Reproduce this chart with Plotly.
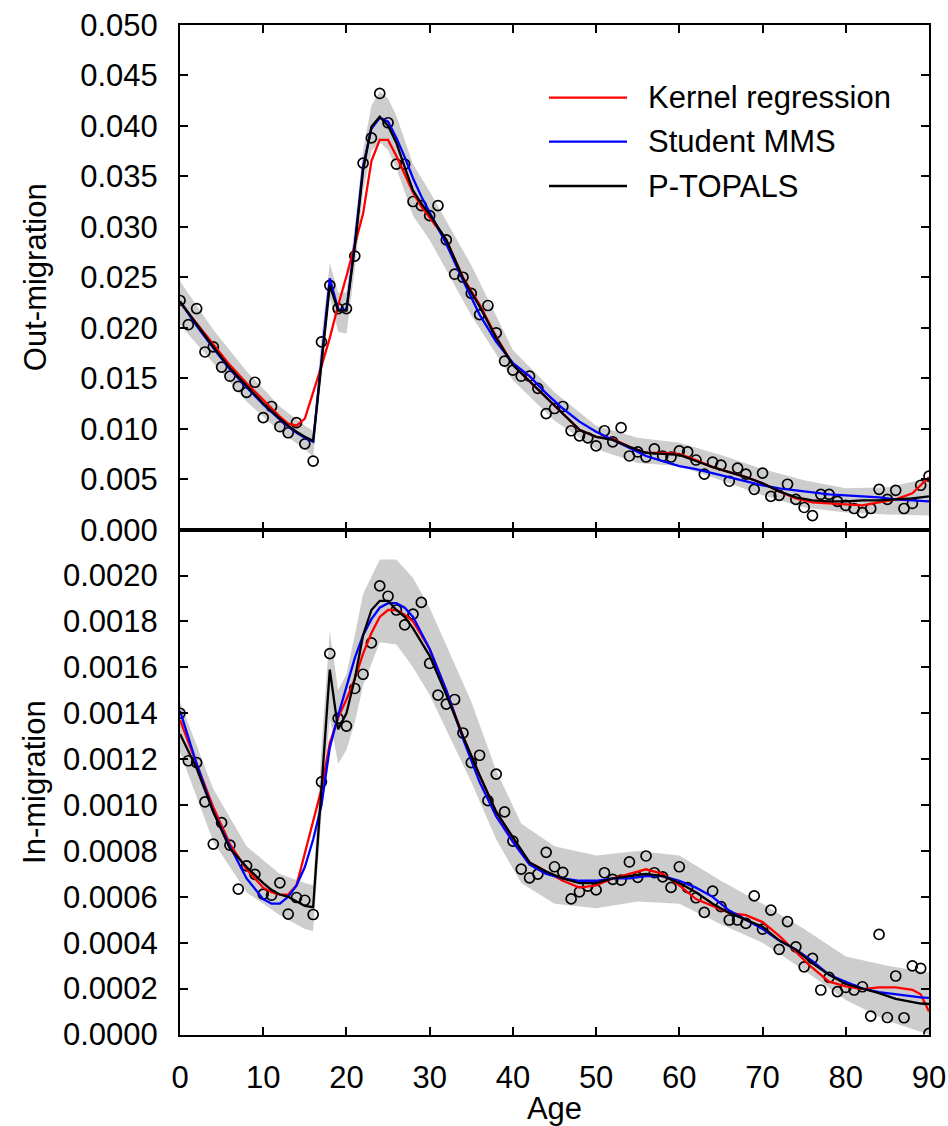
import plotly.graph_objects as go

# ---------------- data ----------------
ages = list(range(0, 91))

out_obs = [0.0227, 0.0203, 0.0219, 0.0176, 0.0181, 0.0161, 0.0152, 0.0142, 0.0136, 0.0146,
           0.0111, 0.0122, 0.0102, 0.0096, 0.0106, 0.0085, 0.0068, 0.0186, 0.0242, 0.0219,
           0.0219, 0.0271, 0.0363, 0.0388, 0.0432, 0.0403, 0.0362, 0.0362, 0.0325, 0.0321,
           0.0311, 0.0321, 0.0287, 0.0253, 0.0250, 0.0234, 0.0213, 0.0222, 0.0195, 0.0167,
           0.0158, 0.0152, 0.0152, 0.0140, 0.0115, 0.0120, 0.0122, 0.0098, 0.0093, 0.0091,
           0.0083, 0.0098, 0.0087, 0.0101, 0.0073, 0.0077, 0.0072, 0.0080, 0.0073, 0.0072,
           0.0078, 0.0077, 0.0069, 0.0055, 0.0067, 0.0064, 0.0048, 0.0061, 0.0055, 0.0040,
           0.0056, 0.0033, 0.0034, 0.0045, 0.0030, 0.0022, 0.0014, 0.0035, 0.0035, 0.0028,
           0.0024, 0.0021, 0.0017, 0.0021, 0.0040, 0.0030, 0.0039, 0.0021, 0.0026, 0.0044,
           0.0053]

in_obs = [0.001400, 0.001193, 0.001185, 0.001014, 0.000830, 0.000923, 0.000825, 0.000634, 0.000735, 0.000698,
          0.000612, 0.000607, 0.000661, 0.000525, 0.000597, 0.000585, 0.000523, 0.001101, 0.001660, 0.001378,
          0.001344, 0.001508, 0.001570, 0.001707, 0.001955, 0.001910, 0.001850, 0.001785, 0.001832, 0.001883,
          0.001617, 0.001479, 0.001440, 0.001460, 0.001314, 0.001185, 0.001217, 0.001019, 0.001135, 0.000970,
          0.000843, 0.000721, 0.000683, 0.000699, 0.000794, 0.000731, 0.000707, 0.000591, 0.000622, 0.000647,
          0.000630, 0.000705, 0.000676, 0.000673, 0.000752, 0.000685, 0.000778, 0.000705, 0.000687, 0.000641,
          0.000731, 0.000640, 0.000596, 0.000532, 0.000625, 0.000557, 0.000499, 0.000499, 0.000484, 0.000604,
          0.000459, 0.000542, 0.000371, 0.000492, 0.000382, 0.000295, 0.000332, 0.000194, 0.000249, 0.000187,
          0.000205, 0.000194, 0.000208, 0.000080, 0.000436, 0.000074, 0.000255, 0.000073, 0.000299, 0.000288,
          0.000005]

# fitted curves, out-migration
out_age = [0, 2, 4, 6, 8, 10, 12, 13, 14, 15, 16, 17, 18, 19, 20, 21, 22, 23, 24, 25, 26, 27, 28, 29, 30,
           32, 34, 36, 38, 40, 42, 44, 46, 48, 50, 52, 54, 56, 58, 60, 62, 64, 66, 68, 70, 72, 74, 76, 78,
           80, 82, 84, 86, 88, 90]
out_kernel = [0.0225, 0.0204, 0.0183, 0.0163, 0.0145, 0.0128, 0.0112, 0.0105, 0.0103, 0.0110, 0.0135,
              0.0162, 0.0190, 0.0222, 0.0251, 0.0281, 0.0313, 0.0365, 0.0386, 0.0386, 0.0370, 0.0352,
              0.0334, 0.0320, 0.0309, 0.0287, 0.0250, 0.0223, 0.0191, 0.0164, 0.0147, 0.0131, 0.0114,
              0.0099, 0.0092, 0.0090, 0.0082, 0.0076, 0.0076, 0.0075, 0.0069, 0.0062, 0.0057, 0.0052,
              0.0046, 0.0038, 0.0031, 0.0027, 0.0026, 0.0025, 0.0024, 0.0027, 0.0030, 0.0036, 0.0052]
out_mms = [0.0226, 0.0202, 0.0180, 0.0159, 0.0141, 0.0124, 0.0109, 0.0102, 0.0096, 0.0091, 0.0087,
           0.0170, 0.0249, 0.0218, 0.0218, 0.0283, 0.0360, 0.0397, 0.0408, 0.0404, 0.0388, 0.0369,
           0.0348, 0.0330, 0.0314, 0.0283, 0.0247, 0.0213, 0.0186, 0.0165, 0.0152, 0.0135, 0.0120,
           0.0107, 0.0097, 0.0089, 0.0081, 0.0073, 0.0068, 0.0063, 0.0060, 0.0056, 0.0052, 0.0048,
           0.0044, 0.0041, 0.0039, 0.0037, 0.0035, 0.0034, 0.0033, 0.0032, 0.0030, 0.0029, 0.0028]
out_ptopals = [0.0226, 0.0203, 0.0181, 0.0160, 0.0142, 0.0125, 0.0110, 0.0103, 0.0097, 0.0092, 0.0088,
               0.0168, 0.0242, 0.0217, 0.0217, 0.0280, 0.0356, 0.0399, 0.0409, 0.0400, 0.0383, 0.0359,
               0.0336, 0.0323, 0.0312, 0.0287, 0.0249, 0.0221, 0.0190, 0.0163, 0.0147, 0.0131, 0.0114,
               0.0099, 0.0092, 0.0089, 0.0082, 0.0076, 0.0075, 0.0074, 0.0068, 0.0062, 0.0057, 0.0052,
               0.0046, 0.0038, 0.0032, 0.0029, 0.0028, 0.0028, 0.0029, 0.0029, 0.0030, 0.0031, 0.0033]

out_band_age = [0, 4, 8, 12, 15, 16, 17, 18, 19, 20, 21, 22, 23, 24, 25, 26, 28, 30, 35, 40, 45, 50,
                55, 60, 65, 70, 75, 80, 85, 90]
out_band_hi = [0.0246, 0.0198, 0.0157, 0.0122, 0.0103, 0.0098, 0.0190, 0.0264, 0.0235, 0.0235, 0.0300,
               0.0376, 0.0420, 0.0434, 0.0427, 0.0410, 0.0362, 0.0335, 0.0262, 0.0178, 0.0136, 0.0103,
               0.0091, 0.0086, 0.0074, 0.0060, 0.0049, 0.0041, 0.0042, 0.0051]
out_band_lo = [0.0203, 0.0165, 0.0127, 0.0097, 0.0080, 0.0072, 0.0148, 0.0230, 0.0196, 0.0194, 0.0258,
               0.0335, 0.0375, 0.0384, 0.0376, 0.0358, 0.0311, 0.0287, 0.0212, 0.0148, 0.0108, 0.0080,
               0.0066, 0.0063, 0.0049, 0.0034, 0.0022, 0.0017, 0.0015, 0.0014]

# fitted curves, in-migration
in_age = [0, 2, 4, 6, 8, 10, 11, 12, 13, 14, 15, 16, 17, 18, 19, 20, 21, 22, 23, 24, 25, 26, 27, 28,
          30, 32, 34, 36, 38, 40, 42, 44, 46, 48, 50, 52, 54, 56, 58, 60, 62, 64, 66, 68, 70, 72, 74,
          76, 78, 80, 82, 84, 86, 88, 89, 90]
in_kernel = [0.00137, 0.00118, 0.00099, 0.00083, 0.00072, 0.00064, 0.00062, 0.00061, 0.00061, 0.00065,
             0.00079, 0.00094, 0.00107, 0.00127, 0.00138, 0.00146, 0.00155, 0.00166, 0.00175, 0.00182,
             0.00185, 0.00185, 0.00183, 0.00180, 0.00168, 0.00150, 0.00130, 0.00113, 0.00097, 0.00085,
             0.00075, 0.00071, 0.00067, 0.00064, 0.00065, 0.00068, 0.00070, 0.00072, 0.00070, 0.00065,
             0.00059, 0.00056, 0.00053, 0.00052, 0.00049, 0.00043, 0.00036, 0.00029, 0.00023, 0.00021,
             0.000198, 0.000205, 0.000205, 0.000195, 0.000175, 0.00010]
in_mms = [0.00141, 0.00118, 0.00097, 0.00082, 0.00068, 0.00059, 0.00057, 0.00057, 0.00060, 0.00065,
          0.00073, 0.00085, 0.00100, 0.00125, 0.00139, 0.00152, 0.00164, 0.00174, 0.00181, 0.00186,
          0.00188, 0.00188, 0.00186, 0.00182, 0.00168, 0.00150, 0.00129, 0.00110, 0.00095, 0.00084,
          0.00074, 0.00070, 0.00068, 0.00067, 0.00067, 0.00068, 0.00068, 0.00069, 0.00069, 0.00067,
          0.00064, 0.00060, 0.00054, 0.00050, 0.00046, 0.00041, 0.00037, 0.00032, 0.00026, 0.00023,
          0.00020, 0.000185, 0.000175, 0.000165, 0.000162, 0.00016]
in_ptopals = [0.00131, 0.00116, 0.00097, 0.00081, 0.00073, 0.00066, 0.00063, 0.00061, 0.00060, 0.00058,
              0.00056, 0.000555, 0.00108, 0.00159, 0.00133, 0.00140, 0.00155, 0.00174, 0.00185, 0.00189,
              0.00189, 0.00185, 0.00182, 0.00177, 0.00165, 0.00148, 0.00130, 0.00113, 0.00097, 0.00086,
              0.00075, 0.00071, 0.00068, 0.00066, 0.00066, 0.00068, 0.00069, 0.00070, 0.00069, 0.00066,
              0.00062, 0.00057, 0.00053, 0.00050, 0.00047, 0.00041, 0.00037, 0.00031, 0.00026, 0.00022,
              0.00020, 0.00018, 0.000155, 0.00014, 0.000135, 0.000133]

in_band_age = [0, 4, 8, 12, 15, 16, 17, 18, 19, 20, 21, 22, 24, 26, 28, 30, 35, 38, 41, 45, 50, 55, 60,
               65, 70, 75, 80, 85, 90]
in_band_hi = [0.00145, 0.00107, 0.00082, 0.00070, 0.00066, 0.00065, 0.00125, 0.00176, 0.00150, 0.00157,
              0.00174, 0.00192, 0.00207, 0.00207, 0.00199, 0.00186, 0.00145, 0.00115, 0.00092, 0.00082,
              0.00078, 0.00080, 0.00078, 0.00067, 0.00057, 0.00046, 0.00034, 0.00030, 0.00027]
in_band_lo = [0.00123, 0.00084, 0.00062, 0.00052, 0.00046, 0.00045, 0.00096, 0.00138, 0.00118, 0.00124,
              0.00136, 0.00152, 0.00171, 0.00170, 0.00160, 0.00148, 0.00110, 0.00085, 0.00066, 0.00057,
              0.00055, 0.00058, 0.00057, 0.00048, 0.00040, 0.00028, 0.00015, 0.00006, 0.00000]

series_names = ["Kernel regression", "Student MMS", "P-TOPALS"]
series_colors = ["#ff0000", "#0000ff", "#000000"]

x_ticks = [0, 10, 20, 30, 40, 50, 60, 70, 80, 90]
out_ticks = [0.000, 0.005, 0.010, 0.015, 0.020, 0.025, 0.030, 0.035, 0.040, 0.045, 0.050]
in_ticks = [0.0000, 0.0002, 0.0004, 0.0006, 0.0008, 0.0010, 0.0012, 0.0014, 0.0016, 0.0018, 0.0020]

# ---------------- figure ----------------
W, H = 948, 1126
FONT = "Liberation Sans, Arial, Helvetica, sans-serif"
FS = 31
fig = go.Figure()

panels = [
    ("x", "y", out_band_age, out_band_hi, out_band_lo, out_obs, out_age, [out_kernel, out_mms, out_ptopals]),
    ("x2", "y2", in_band_age, in_band_hi, in_band_lo, in_obs, in_age, [in_kernel, in_mms, in_ptopals]),
]

for xa, ya, bage, bhi, blo, obs, cage, curves in panels:
    fig.add_trace(go.Scatter(
        x=bage + bage[::-1], y=bhi + blo[::-1], fill="toself", fillcolor="#cdcdcd",
        line=dict(width=0), mode="lines", hoverinfo="skip", showlegend=False,
        xaxis=xa, yaxis=ya))
    fig.add_trace(go.Scatter(
        x=ages, y=obs, mode="markers", showlegend=False,
        marker=dict(symbol="circle-open", size=10, color="black", line=dict(width=1.7)),
        xaxis=xa, yaxis=ya))
    for name, col, vals in zip(series_names, series_colors, curves):
        fig.add_trace(go.Scatter(
            x=cage, y=vals, mode="lines", name=name, showlegend=False,
            line=dict(color=col, width=2.3), xaxis=xa, yaxis=ya))

xdom = [180 / W, 929 / W]
top_dom = [(H - 529.7) / H, (H - 24.8) / H]
bot_dom = [(H - 1034.5) / H, (H - 529.7) / H]

axis_common = dict(
    showline=True, linecolor="black", linewidth=2, mirror="ticks",
    ticks="inside", ticklen=8, tickwidth=1.6, tickcolor="black",
    showgrid=False, zeroline=False, automargin=False,
    tickfont=dict(family=FONT, size=FS, color="black"),
)
title_font = dict(family=FONT, size=FS, color="black")

fig.update_layout(
    width=W, height=H, margin=dict(l=0, r=0, t=0, b=0, autoexpand=False),
    paper_bgcolor="white", plot_bgcolor="white",
    font=dict(family=FONT, size=FS, color="black"),
    showlegend=False,
    xaxis=dict(domain=xdom, anchor="y", range=[0, 90], tickvals=x_ticks,
               showticklabels=False, **axis_common),
    yaxis=dict(domain=top_dom, anchor="x", range=[0, 0.05], tickvals=out_ticks,
               tickformat=".3f", ticklabelstandoff=14,
               title=dict(text="Out-migration", standoff=24, font=title_font),
               **axis_common),
    xaxis2=dict(domain=xdom, anchor="y2", range=[0, 90], tickvals=x_ticks,
                ticklabelstandoff=14,
                title=dict(text="Age", standoff=12, font=title_font),
                **axis_common),
    yaxis2=dict(domain=bot_dom, anchor="x2", range=[0, 0.0022], tickvals=in_ticks,
                tickformat=".4f", ticklabelstandoff=14,
                title=dict(text="In-migration", standoff=8, font=title_font),
                **axis_common),
)

# legend drawn in the top panel
leg_y = [97.7, 141.7, 186.0]
for name, col, yy in zip(series_names, series_colors, leg_y):
    fig.add_shape(type="line", xref="paper", yref="paper",
                  x0=549 / W, x1=627 / W, y0=1 - yy / H, y1=1 - yy / H,
                  line=dict(color=col, width=2.3))
    fig.add_annotation(xref="paper", yref="paper", x=646 / W, y=1 - yy / H,
                       text=name, showarrow=False, xanchor="left", yanchor="middle",
                       font=dict(family=FONT, size=FS, color="black"))

fig.write_html("out.html")
